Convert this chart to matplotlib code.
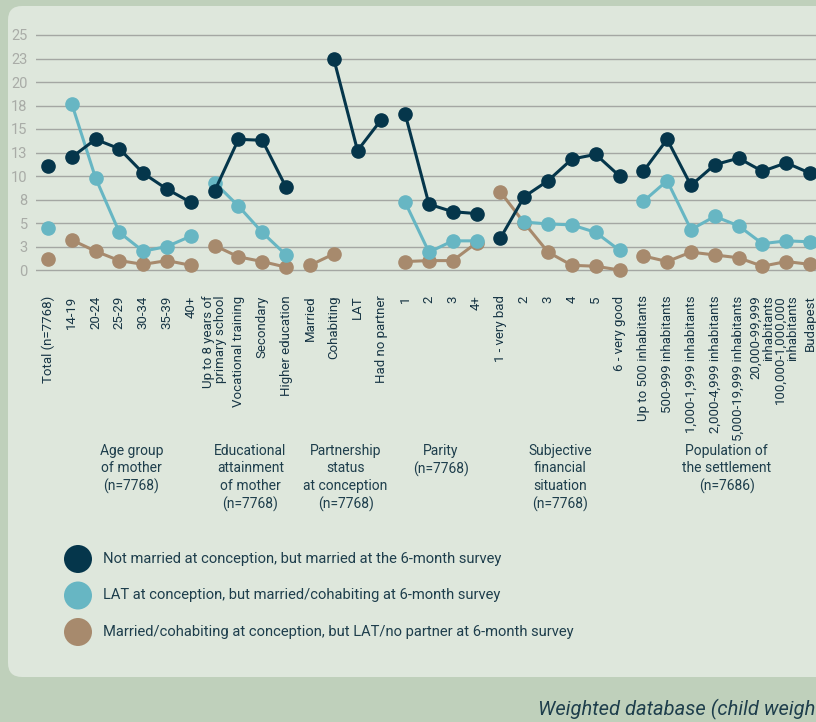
import matplotlib
matplotlib.use("Agg")
import matplotlib.pyplot as plt
import numpy as np
from matplotlib.patches import FancyBboxPatch, Ellipse

plt.rcParams['font.family'] = ['Roboto', 'DejaVu Sans']

# categories along the x axis
categories = ['Total (n=7768)',
              '14-19', '20-24', '25-29', '30-34', '35-39', '40+',
              'Up to 8 years of\nprimary school', 'Vocational training', 'Secondary', 'Higher education',
              'Married', 'Cohabiting', 'LAT', 'Had no partner',
              '1', '2', '3', '4+',
              '1 - very bad', '2', '3', '4', '5', '6 - very good',
              'Up to 500 inhabitants', '500-999 inhabitants', '1,000-1,999 inhabitants',
              '2,000-4,999 inhabitants', '5,000-19,999 inhabitants',
              '20,000-99,999\ninhabitants', '100,000-1,000,000\ninhabitants', 'Budapest']

# index ranges of each group (lines are only drawn inside a group)
groups = [(0, 1), (1, 7), (7, 11), (11, 15), (15, 19), (19, 25), (25, 33)]
group_labels = ['', 'Age group\nof mother\n(n=7768)',
                'Educational\nattainment\nof mother\n(n=7768)',
                'Partnership\nstatus\nat conception\n(n=7768)',
                'Parity\n(n=7768)',
                'Subjective\nfinancial\nsituation\n(n=7768)',
                'Population of\nthe settlement\n(n=7686)']

N = np.nan
married = [11.1,
           12.0, 13.9, 12.9, 10.3, 8.6, 7.2,
           8.4, 13.9, 13.8, 8.8,
           N, 22.5, 12.7, 16.0,
           16.6, 7.0, 6.2, 6.0,
           3.4, 7.8, 9.5, 11.8, 12.3, 10.0,
           10.5, 13.9, 9.0, 11.2, 11.9, 10.5, 11.4, 10.3]
lat = [4.5,
       17.7, 9.8, 4.0, 2.0, 2.5, 3.6,
       9.3, 6.8, 4.0, 1.6,
       N, N, N, N,
       7.2, 1.9, 3.1, 3.1,
       N, 5.1, 4.9, 4.8, 4.0, 2.1,
       7.3, 9.5, 4.3, 5.7, 4.7, 2.8, 3.1, 3.0]
separated = [1.2,
             3.2, 2.0, 1.0, 0.6, 1.0, 0.5,
             2.6, 1.4, 0.9, 0.3,
             0.5, 1.7, N, N,
             0.9, 1.0, 1.0, 2.9,
             8.3, 5.0, 1.9, 0.5, 0.4, 0.0,
             1.5, 0.9, 1.9, 1.6, 1.3, 0.4, 0.9, 0.6]

series_names = ['Not married at conception, but married at the 6-month survey',
                'LAT at conception, but married/cohabiting at 6-month survey',
                'Married/cohabiting at conception, but LAT/no partner at 6-month survey']
colors = ['#05364b', '#67b6c3', '#a78a6d']

yticks = [0, 2.5, 5, 7.5, 10, 12.5, 15, 17.5, 20, 22.5, 25]
ytick_labels = ['0', '3', '5', '8', '10', '13', '15', '18', '20', '23', '25']

W, H = 816, 722
fig = plt.figure(figsize=(W / 100, H / 100), dpi=100, facecolor='#bfd0bb')

# background panel / legend / footer in pixel coordinates
bg = fig.add_axes([0, 0, 1, 1], zorder=0)
bg.set_xlim(0, W)
bg.set_ylim(0, H)
bg.axis('off')
bg.add_patch(FancyBboxPatch((8, H - 677), 900, 671,
                            boxstyle='round,pad=0,rounding_size=14',
                            facecolor='#dee7dc', edgecolor='none'))

# y=0 at pixel 270, y=25 at pixel 35 (a small margin so the outer gridlines are not clipped)
ppu = (270 - 35) / 25
ax = fig.add_axes([36 / W, 1 - (270 + 2 * ppu / 10) / H, 1 - 36 / W, (235 + 4 * ppu / 10) / H], zorder=1)
ax.set_facecolor('none')
x = np.arange(len(categories))

for vals, col, z in [(separated, colors[2], 3), (lat, colors[1], 4), (married, colors[0], 5)]:
    vals = np.array(vals, dtype=float)
    for a, b in groups:
        ax.plot(x[a:b], vals[a:b], color=col, lw=2.2, marker='o', ms=9.5,
                zorder=z, clip_on=False)

ax.set_xlim(-0.5, 32.25)
ax.set_ylim(-0.2, 25.2)
ax.set_yticks(yticks)
ax.set_yticklabels(ytick_labels)
ax.grid(axis='y', color='#a4a7a3', lw=1.0)
ax.set_axisbelow(True)
for s in ax.spines.values():
    s.set_visible(False)
ax.tick_params(axis='y', length=0, pad=6, labelsize=10.5, labelcolor='#a9aca7')
ax.set_xticks(x)
ax.set_xticklabels(categories, rotation=90, ha='center', va='top', fontsize=9.5,
                   color='#173545', linespacing=0.95, multialignment='right')
ax.tick_params(axis='x', length=0, pad=17)

# group captions
for (a, b), lab in zip(groups, group_labels):
    if lab:
        xc = (a + b - 1) / 2
        px = 36 + (xc + 0.5) / 32.75 * (W - 36)
        bg.text(px, H - 444, lab, ha='center', va='top', fontsize=10,
                color='#1e3e4c', linespacing=1.3)

# legend
for i, (name, col) in enumerate(zip(series_names, colors)):
    yy = H - (559 + 36.5 * i)
    bg.add_patch(Ellipse((78, yy), 28, 28, facecolor=col, edgecolor='none'))
    bg.text(103, yy, name, ha='left', va='center', fontsize=10.6, color='#1e3e4c')

# footer (shown cut at the right edge in the source)
bg.text(W - 1, H - 709, 'Weighted database (child weigh', ha='right', va='center',
        fontsize=14.5, style='italic', color='#1e3e4c')

fig.savefig('out.png', dpi=100, facecolor=fig.get_facecolor())
